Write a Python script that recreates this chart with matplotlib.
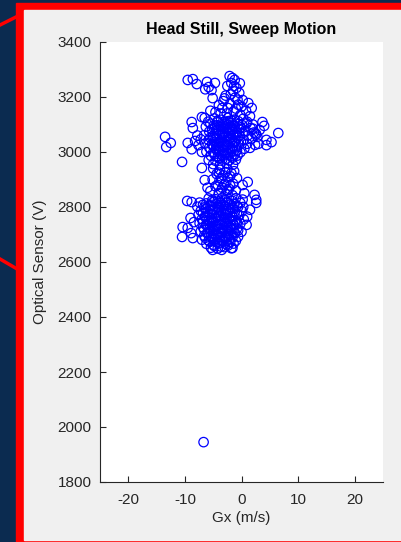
import matplotlib.pyplot as plt
from matplotlib.patches import Rectangle
from matplotlib.lines import Line2D

# scatter data: Gx (m/s) vs optical sensor (V)
gx = [
  # sparse top
  -9.5, -8.6, -7.9, -6.1, -5.8, -4.7, -5.3, -5.1, -6.4,
  -2.1, -1.6, -1.2, -1.8, -0.9, -0.4, 0.2, 1.2, 1.8,
  -2.5, -1.5, -2.8, -1.1, -3.2, -0.6, -2.0, -4.0, -3.4, 0.8, -1.4, -2.6, -4.6, -5.5, -0.2, 1.5,
  -7.0, -6.5, -8.8, -8.6, -5.9,
  # upper blob
  -4.8, -3.6, -2.4, -1.2, 0.3,
  -5.5, -4.2, -3.0, -1.8, -0.6, 0.9,
  -6.3, -4.9, -3.7, -2.5, -1.3, -0.1, 1.6,
  -5.7, -4.4, -3.2, -2.0, -0.8, 0.6, 2.2,
  -6.6, -5.1, -3.9, -2.7, -1.5, -0.3, 1.1, 2.6,
  -7.2, -5.8, -4.6, -3.4, -2.2, -1.0, 0.4, 1.8,
  -6.4, -5.2, -4.0, -2.8, -1.6, -0.4, 1.0, 2.4,
  -5.7, -4.5, -3.3, -2.1, -0.9, 0.5,
  -6.2, -5.0, -3.8, -2.6, -1.4, -0.2,
  -5.4, -4.2, -3.0, -1.8, -0.7,
  -5.8, -4.6, -3.4, -2.2, -1.0,
  -5.0, -3.8, -2.6, -1.5,
  -4.3, -3.1, -2.0, -3.6, -2.7, -4.0, -1.9, -3.3, -2.4, -4.9, -1.2, -3.0, -4.4, -2.2,
  # right of upper blob
  3.7, 4.0, 4.4, 5.3, 4.4, 2.8, 6.5, 3.2, 2.0, 3.0, 1.5, 2.5,
  # left of upper blob
  -13.5, -13.3, -12.5, -9.5, -8.2, -7.6, -8.8, -10.5, -7.8, -7.0,
  # neck
  -7.0, -6.5, 1.1, 2.3, -5.0, -3.8, -2.5, -1.3, -4.4, -3.2, -2.0, -0.8,
  -5.1, -3.9, -2.7, -1.5, -4.6, -3.4, -2.2, -1.0, -5.5, -4.0, -2.8, -1.6, 0.2, 0.5, -6.0,
  # right of lower blob
  2.6, 2.6, 0.9, 1.5, 0.3, 1.0,
  # lower blob
  -5.8, -4.6, -3.4, -2.2, -1.0, 0.2,
  -7.4, -6.2, -5.0, -3.8, -2.6, -1.4, -0.2,
  -7.8, -6.6, -5.4, -4.2, -3.0, -1.8, -0.6,
  -7.2, -6.0, -4.8, -3.6, -2.4, -1.2, 0.1,
  -7.6, -6.4, -5.2, -4.0, -2.8, -1.6, -0.4,
  -7.0, -5.8, -4.6, -3.4, -2.2, -1.0, 0.4,
  -7.4, -6.2, -5.0, -3.8, -2.6, -1.4, -0.2,
  -6.8, -5.6, -4.4, -3.2, -2.0, -0.8,
  -7.2, -6.0, -4.8, -3.6, -2.4, -1.2, 0.0,
  -6.6, -5.4, -4.2, -3.0, -1.8, -0.6,
  -7.0, -5.8, -4.6, -3.4, -2.2, -1.0,
  -6.2, -5.0, -3.8, -2.6, -1.4,
  -5.4, -4.2, -3.0, -1.8,
  -4.1, -3.0, -4.4, -3.3, -5.0, -2.9, -4.0, -3.7, -2.6, -5.3, -1.9, -4.7,
  # left of lower blob and bottom edge
  -10.4, -10.5, -9.5, -8.6, -9.6, -8.8, -1.6, -3.5, -5.1, -9.0, -8.4, -8.9,
  # lone outlier
  -6.7,
]

optical = [
  3262, 3265, 3247, 3255, 3236, 3251, 3225, 3196, 3228,
  3276, 3269, 3262, 3251, 3233, 3215, 3189, 3178, 3160,
  3240, 3222, 3205, 3198, 3185, 3172, 3175, 3170, 3160, 3150, 3148, 3140, 3145, 3150, 3135, 3130,
  3127, 3124, 3109, 3087, 3110,
  3122, 3117, 3124, 3118, 3121,
  3103, 3108, 3102, 3106, 3101, 3104,
  3092, 3088, 3091, 3086, 3093, 3089, 3087,
  3074, 3078, 3072, 3077, 3073, 3076, 3071,
  3061, 3058, 3063, 3057, 3062, 3059, 3060, 3064,
  3046, 3043, 3048, 3044, 3047, 3042, 3045, 3049,
  3031, 3028, 3033, 3029, 3032, 3027, 3030, 3026,
  3016, 3013, 3018, 3014, 3017, 3012,
  3001, 2998, 3003, 2997, 3002, 2999,
  2986, 2983, 2988, 2984, 2987,
  2971, 2968, 2973, 2969, 2972,
  2956, 2953, 2958, 2954,
  3097, 3083, 3052, 3038, 3022, 3008, 3090, 3066, 3112, 3052, 3035, 2995, 3025, 3070,
  3109, 3095, 3044, 3036, 3025, 3055, 3069, 3080, 3100, 3030, 3015, 3068,
  3055, 3018, 3033, 3033, 3040, 3025, 3010, 2964, 3060, 3000,
  2942, 2898, 2891, 2844, 2940, 2935, 2938, 2930, 2920, 2915, 2912, 2905,
  2900, 2895, 2890, 2885, 2875, 2870, 2866, 2860, 2858, 2850, 2847, 2843, 2880, 2850, 2870,
  2826, 2815, 2735, 2790, 2800, 2765,
  2831, 2828, 2833, 2829, 2832, 2827,
  2816, 2813, 2818, 2814, 2817, 2812, 2815,
  2801, 2798, 2803, 2799, 2802, 2797, 2800,
  2786, 2783, 2788, 2784, 2787, 2782, 2785,
  2771, 2768, 2773, 2769, 2772, 2767, 2770,
  2756, 2753, 2758, 2754, 2757, 2752, 2755,
  2741, 2738, 2743, 2739, 2742, 2737, 2740,
  2726, 2723, 2728, 2724, 2727, 2722,
  2711, 2708, 2713, 2709, 2712, 2707, 2710,
  2696, 2693, 2698, 2694, 2697, 2692,
  2681, 2678, 2683, 2679, 2682, 2677,
  2666, 2663, 2668, 2664, 2667,
  2652, 2649, 2654, 2650,
  2790, 2762, 2735, 2718, 2705, 2690, 2670, 2808, 2778, 2750, 2725, 2685,
  2727, 2691, 2724, 2687, 2822, 2818, 2651, 2644, 2644, 2760, 2745, 2705,
  1945,
]

# extra points packed into the two dense cores
gx_core = [
  -3.0, -1.9, -0.7, -2.4, -1.0, 0.0, -3.7, -0.3, -1.3, 2.0, 1.0,
  -4.2, -3.0, -1.8, -0.6,
  -4.9, -3.6, -2.4, -1.2, 0.1,
  -5.2, -4.0, -2.8, -1.6, -0.4,
  -4.6, -3.5, -2.3, -1.1, 0.2,
  -5.5, -4.3, -3.1, -1.9, -0.7,
  -4.8, -3.7, -2.5, -1.3, -0.1,
  -5.0, -3.9, -2.7, -1.5,
  -4.4, -3.2, -2.0, -0.8,
  -4.8, -3.6, -2.4, -1.2,
  -4.0, -2.8, -1.6,
  -4.0, -2.8, -1.8, -3.6, -2.4, -4.2, -3.0, -2.0, -3.6, -2.5,
  -5.2, -4.0, -2.8, -1.6,
  -6.8, -5.6, -4.4, -3.2, -2.0, -0.8,
  -6.3, -5.1, -3.9, -2.7, -1.5,
  -6.8, -5.6, -4.4, -3.2, -2.0, -0.8,
  -6.4, -5.2, -4.0, -2.8, -1.6,
  -6.8, -5.6, -4.4, -3.2, -2.0, -0.8,
  -6.2, -5.0, -3.8, -2.6, -1.4,
  -6.6, -5.4, -4.2, -3.0, -1.8, -0.6,
  -6.0, -4.8, -3.6, -2.4, -1.2,
  -6.4, -5.2, -4.0, -2.8, -1.6,
  -5.6, -4.4, -3.2, -2.0,
  -4.8, -3.6, -2.4,
]

optical_core = [
  3195, 3210, 3190, 3160, 3158, 3165, 3140, 3250, 3240, 3085, 3110,
  3113, 3110, 3115, 3112,
  3097, 3095, 3099, 3096, 3098,
  3082, 3080, 3084, 3081, 3083,
  3067, 3065, 3069, 3066, 3068,
  3052, 3050, 3054, 3051, 3053,
  3037, 3035, 3039, 3036, 3038,
  3022, 3020, 3024, 3021,
  3007, 3005, 3009, 3006,
  2992, 2990, 2994, 2991,
  2977, 2975, 2979,
  2925, 2927, 2923, 2905, 2907, 2880, 2882, 2878, 2860, 2862,
  2823, 2821, 2825, 2822,
  2808, 2806, 2810, 2807, 2809, 2805,
  2793, 2791, 2795, 2792, 2794,
  2778, 2776, 2780, 2777, 2779, 2775,
  2763, 2761, 2765, 2762, 2764,
  2748, 2746, 2750, 2747, 2749, 2745,
  2733, 2731, 2735, 2732, 2734,
  2718, 2716, 2720, 2717, 2719, 2715,
  2703, 2701, 2705, 2702, 2704,
  2688, 2686, 2690, 2687, 2689,
  2673, 2671, 2675, 2672,
  2658, 2656, 2660,
]

xticks = [-20, -10, 0, 10, 20]
yticks = [1800, 2000, 2200, 2400, 2600, 2800, 3000, 3200, 3400]

W, H = 401, 542
plt.rcParams['font.family'] = ['Liberation Sans', 'DejaVu Sans']
plt.rcParams['axes.unicode_minus'] = False
fig = plt.figure(figsize=(W / 100, H / 100), dpi=100)
fig.patch.set_facecolor('#0b2b50')

def px(x, y, w, h):
  # pixel box (top-left origin) -> figure fraction box
  return (x / W, 1 - (y + h) / H), w / W, h / H

# red callout lines and red frame, then the grey panel
fig.add_artist(Line2D([0, 24 / W], [1 - 25 / H, 1 - 13 / H], color='red', lw=2.5, zorder=0))
fig.add_artist(Line2D([0, 24 / W], [1 - 259 / H, 1 - 273 / H], color='red', lw=2.5, zorder=0))
xy, w, h = px(16, 3, W - 16, H - 3)
fig.add_artist(Rectangle(xy, w, h, transform=fig.transFigure, color='#ff0000', zorder=0))
xy, w, h = px(24, 10, W - 24, 530)
fig.add_artist(Rectangle(xy, w, h, transform=fig.transFigure, color='#f0f0f0', zorder=0))

ax = fig.add_axes([100 / W, 1 - 482 / H, 283 / W, 440 / H])
ax.set_facecolor('white')
ax.scatter(gx + gx_core, optical + optical_core, s=46, facecolors='none',
           edgecolors='#0000ff', linewidths=0.9, zorder=3)

ax.set_xlim(-25, 25)
ax.set_ylim(1800, 3400)
ax.set_xticks(xticks)
ax.set_yticks(yticks)
for s in ['top', 'right']:
  ax.spines[s].set_visible(False)
for s in ['left', 'bottom']:
  ax.spines[s].set_color('#262626')
  ax.spines[s].set_linewidth(0.8)
ax.tick_params(direction='in', length=4, width=0.8, colors='#262626', labelsize=11)
ax.tick_params(axis='x', pad=8)
ax.tick_params(axis='y', pad=6)

ax.set_title('Head Still, Sweep Motion', fontsize=11.5, fontweight='bold', color='black', pad=6)
ax.set_xlabel('Gx (m/s)', fontsize=11, color='#262626', labelpad=3)
ax.set_ylabel('Optical Sensor (V)', fontsize=11, color='#262626', labelpad=8)

fig.savefig('out.png', dpi=100, facecolor=fig.get_facecolor())
